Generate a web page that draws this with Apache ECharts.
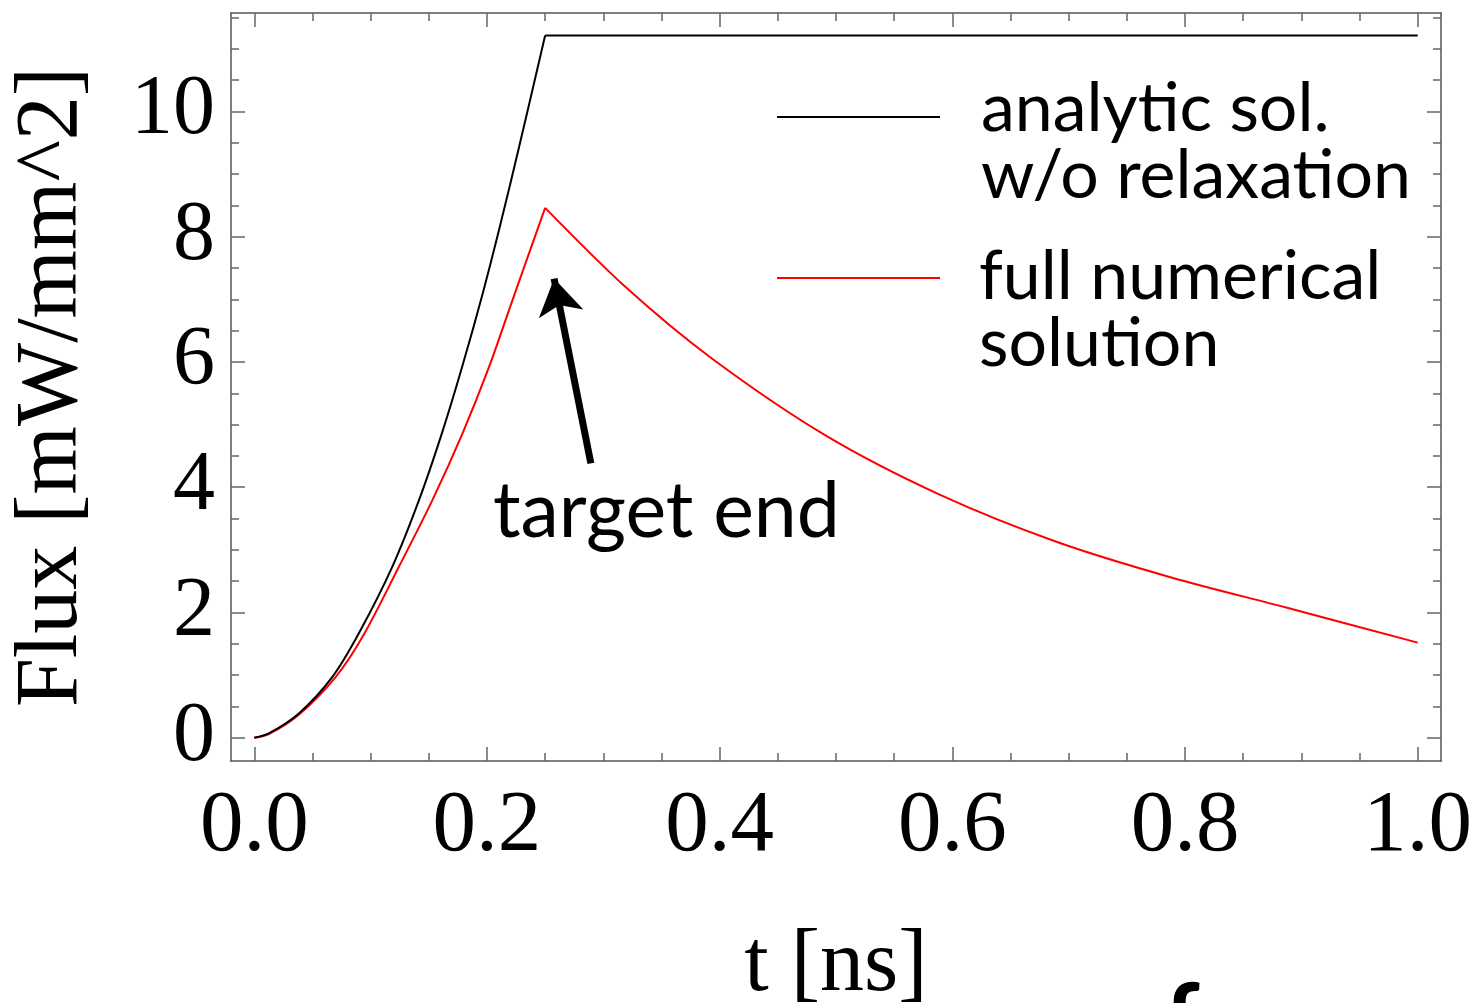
<!DOCTYPE html>
<html>
<head>
<meta charset="utf-8">
<script src="https://cdn.jsdelivr.net/npm/echarts@6/dist/echarts.min.js"></script>
<style>
  html, body { margin: 0; padding: 0; background: #fff; }
  #chart { width: 1479px; height: 1003px; }
</style>
</head>
<body>
<div id="chart"></div>
<script>
// values (t in ns, flux in mW/mm^2)
const analyticRise = [
  [0, 0], [0.0125, 0.07], [0.0383, 0.39], [0.067, 0.97], [0.0899, 1.67],
  [0.1186, 2.73], [0.1415, 3.79], [0.1616, 4.88], [0.1788, 5.93],
  [0.196, 7.07], [0.2104, 8.11], [0.2276, 9.43], [0.25, 11.21]
]
const analyticFlat = [[0.25, 11.21], [1.0, 11.21]]
const numericRise = [
  [0, 0], [0.0125, 0.06], [0.0383, 0.37], [0.0699, 0.97], [0.0942, 1.65],
  [0.1243, 2.73], [0.153, 3.79], [0.179, 4.86], [0.2018, 5.92],
  [0.2218, 6.98], [0.25, 8.46]
]
const numericDecay = [
  [0.25, 8.46], [0.3189, 7.2], [0.393, 6.06], [0.4917, 4.82], [0.5905, 3.87],
  [0.6894, 3.13], [0.7881, 2.56], [0.8869, 2.08], [1.0, 1.52]
]
const arrowFrom = [0.2893, 4.38]
const arrowTo = [0.2577, 7.33]

const xMajor = [0, 0.2, 0.4, 0.6, 0.8, 1.0]
const xMinor = [0.05, 0.1, 0.15, 0.25, 0.3, 0.35, 0.45, 0.5, 0.55, 0.65, 0.7, 0.75, 0.85, 0.9, 0.95]
const yMajor = [0, 2, 4, 6, 8, 10]
const yMinor = [0.5, 1, 1.5, 2.5, 3, 3.5, 4.5, 5, 5.5, 6.5, 7, 7.5, 8.5, 9, 9.5, 10.5, 11, 11.5]

const X_MIN = -0.02, X_MAX = 1.02
const Y_MIN = -0.37, Y_MAX = 11.57

const serif = '"Liberation Serif", "DejaVu Serif", serif'
const sans = 'Lato, "Open Sans", sans-serif'
const frameColor = '#555'
const tickColor = '#666'

const makeX = (position, ticks, tickLen, showLine, labels) => ({
  type: 'value',
  position,
  min: X_MIN,
  max: X_MAX,
  axisLine: {show: showLine, onZero: false, lineStyle: {color: frameColor, width: 1.5}},
  axisTick: {show: true, inside: true, length: tickLen, customValues: ticks, lineStyle: {color: tickColor, width: 1.5}},
  axisLabel: labels
      ? {show: true, customValues: ticks, formatter: v => v.toFixed(1), color: '#000',
         fontFamily: serif, fontSize: 87, margin: 23}
      : {show: false},
  splitLine: {show: false}
})

const makeY = (position, ticks, tickLen, showLine, labels) => ({
  type: 'value',
  position,
  min: Y_MIN,
  max: Y_MAX,
  axisLine: {show: showLine, onZero: false, lineStyle: {color: frameColor, width: 1.5}},
  axisTick: {show: true, inside: true, length: tickLen, customValues: ticks, lineStyle: {color: tickColor, width: 1.5}},
  axisLabel: labels
      ? {show: true, customValues: ticks, color: '#000', fontFamily: serif, fontSize: 84, margin: 16}
      : {show: false},
  splitLine: {show: false}
})

const xAxes = [
  makeX('bottom', xMajor, 14, true, true),
  makeX('bottom', xMinor, 8, false, false),
  makeX('top', xMajor, 14, true, false),
  makeX('top', xMinor, 8, false, false)
]
xAxes[0].name = 't [ns]'
xAxes[0].nameLocation = 'middle'
xAxes[0].nameGap = 162
xAxes[0].nameTextStyle = {fontFamily: serif, fontSize: 88, color: '#000'}

const yAxes = [
  makeY('left', yMajor, 14, true, true),
  makeY('left', yMinor, 8, false, false),
  makeY('right', yMajor, 14, true, false),
  makeY('right', yMinor, 8, false, false)
]
yAxes[0].name = 'Flux [mW/mm^2]'
yAxes[0].nameLocation = 'middle'
yAxes[0].nameGap = 134
yAxes[0].nameTextStyle = {fontFamily: serif, fontSize: 88, color: '#000'}

const lineSeries = (name, data, color, smooth) => ({
  name,
  type: 'line',
  data,
  smooth,
  symbol: 'none',
  lineStyle: {color, width: 2},
  itemStyle: {color},
  silent: true,
  z: color === '#ff0000' ? 3 : 4
})

const chart = echarts.init(document.getElementById('chart'))
chart.setOption({
  animation: false,
  backgroundColor: '#fff',
  grid: {left: 231, top: 13, width: 1210, height: 748, containLabel: false, outerBoundsMode: 'none'},
  xAxis: xAxes,
  yAxis: yAxes,
  series: [
    lineSeries('analytic sol. w/o relaxation', analyticRise, '#000', 0.3),
    lineSeries('analytic sol. w/o relaxation', analyticFlat, '#000', false),
    lineSeries('full numerical solution', numericRise, '#ff0000', 0.3),
    {
      ...lineSeries('full numerical solution', numericDecay, '#ff0000', 0.3),
      markLine: {
        silent: true,
        symbol: ['none', 'arrow'],
        symbolSize: [34, 36],
        label: {show: false},
        lineStyle: {color: '#000', width: 7, type: 'solid'},
        data: [[{coord: arrowFrom}, {coord: arrowTo}]]
      }
    }
  ],
  graphic: [
    {type: 'line', shape: {x1: 777, y1: 117, x2: 940, y2: 117}, style: {stroke: '#000', lineWidth: 2}},
    {type: 'text', x: 981, y: 76, style: {text: 'analytic sol.\nw/o relaxation', font: '68px ' + sans, lineHeight: 67, fill: '#000'}},
    {type: 'line', shape: {x1: 777, y1: 278, x2: 940, y2: 278}, style: {stroke: '#ff0000', lineWidth: 2}},
    {type: 'text', x: 979, y: 244, style: {text: 'full numerical\nsolution', font: '68px ' + sans, lineHeight: 67, fill: '#000'}},
    {type: 'text', x: 493, y: 474, style: {text: 'target end', font: '77px ' + sans, fill: '#000'}},
    {type: 'text', x: 1164, y: 973, style: {text: 'f', font: 'bold 100px ' + sans, fill: '#000'}}
  ]
})
</script>
</body>
</html>
